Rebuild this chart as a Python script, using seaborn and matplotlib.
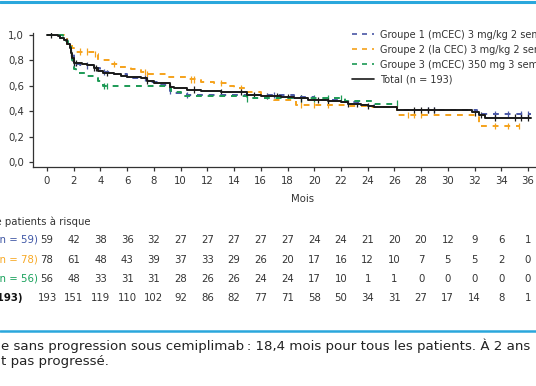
import numpy as np
import pandas as pd
import seaborn as sns
import matplotlib.pyplot as plt
from matplotlib.lines import Line2D
from matplotlib.ticker import FuncFormatter
from matplotlib.transforms import blended_transform_factory

# Survival step data (time in months, survival from that time onward)
g1_t = [0, 1.0, 1.5, 1.8, 2.0, 2.5, 3.5, 4.0, 5.0, 6.0, 7.5, 8.5, 9.2, 9.5, 10.5, 18.5, 20.0, 22.0, 23.5, 24.5, 26.2, 32.2, 36.2]
g1_s = [1.0, 0.98, 0.93, 0.85, 0.77, 0.76, 0.74, 0.71, 0.69, 0.66, 0.63, 0.61, 0.56, 0.54, 0.53, 0.51, 0.49, 0.47, 0.45, 0.43, 0.41, 0.38, 0.38]
g2_t = [0, 1.3, 1.5, 1.9, 2.0, 3.6, 3.8, 4.8, 5.3, 6.3, 7.0, 7.5, 9.0, 10.5, 11.5, 12.5, 13.5, 14.0, 15.0, 16.0, 17.0, 18.6, 22.5, 24.0, 26.2, 32.3, 35.3]
g2_s = [1.0, 0.97, 0.93, 0.90, 0.87, 0.85, 0.80, 0.77, 0.75, 0.73, 0.71, 0.69, 0.67, 0.65, 0.63, 0.62, 0.60, 0.58, 0.55, 0.52, 0.49, 0.45, 0.44, 0.43, 0.37, 0.28, 0.28]
g3_t = [0, 1.2, 1.4, 1.6, 1.8, 1.9, 2.0, 2.2, 3.0, 3.5, 3.8, 4.2, 9.0, 9.3, 10.0, 15.0, 22.3, 24.3, 26.3]
g3_s = [1.0, 0.98, 0.95, 0.91, 0.86, 0.80, 0.73, 0.70, 0.68, 0.66, 0.64, 0.60, 0.58, 0.55, 0.52, 0.50, 0.48, 0.46, 0.46]
tot_t = [0, 0.8, 1.0, 1.3, 1.5, 1.7, 1.8, 1.9, 2.0, 2.6, 3.0, 3.5, 3.8, 4.2, 5.0, 5.5, 6.0, 7.0, 7.5, 8.0, 9.2, 9.5, 10.5, 11.5, 13.0, 15.0, 16.0, 17.5, 18.5, 19.5, 21.0, 22.0, 22.5, 23.5, 24.0, 24.5, 26.2, 31.8, 32.3, 32.8, 36.2]
tot_s = [1.0, 0.99, 0.98, 0.96, 0.93, 0.90, 0.86, 0.82, 0.78, 0.77, 0.76, 0.74, 0.72, 0.70, 0.69, 0.68, 0.67, 0.66, 0.64, 0.62, 0.59, 0.58, 0.57, 0.56, 0.55, 0.53, 0.52, 0.51, 0.50, 0.49, 0.48, 0.47, 0.46, 0.45, 0.44, 0.43, 0.41, 0.39, 0.37, 0.35, 0.35]

# censored observations
g1_c = [2.0, 3.0, 4.3, 7.3, 9.2, 10.5, 17.0, 28.5, 29.0, 33.5, 34.5, 35.5, 36.0]
g2_c = [2.5, 3.0, 3.6, 5.0, 7.3, 7.5, 10.8, 11.0, 13.0, 14.5, 19.0, 20.0, 21.0, 27.0, 27.5, 28.0, 33.5, 34.5, 35.3]
g3_c = [1.5, 4.3, 4.5, 15.0, 19.0, 20.0, 21.0, 22.0, 26.2]
tot_c = [0.3, 1.8, 1.9, 2.0, 2.2, 3.5, 3.7, 4.5, 7.5, 9.2, 11.0, 13.0, 14.5, 15.5, 16.5, 17.2, 18.0,
         19.0, 20.3, 21.0, 22.5, 23.2, 24.0, 27.5, 28.0, 28.5, 29.0, 32.0, 32.5, 33.5, 35.0, 35.5, 36.0]

# patients at risk
risk_times = list(range(0, 37, 2))
risk_g1 = [59, 42, 38, 36, 32, 27, 27, 27, 27, 27, 24, 24, 21, 20, 20, 12, 9, 6, 1]
risk_g2 = [78, 61, 48, 43, 39, 37, 33, 29, 26, 20, 17, 16, 12, 10, 7, 5, 5, 2, 0]
risk_g3 = [56, 48, 33, 31, 31, 28, 26, 26, 24, 24, 17, 10, 1, 1, 0, 0, 0, 0, 0]
risk_tot = [193, 151, 119, 110, 102, 92, 86, 82, 77, 71, 58, 50, 34, 31, 27, 17, 14, 8, 1]

groups = ["Groupe 1", "Groupe 2", "Groupe 3", "Total"]
legend_labels = ["Groupe 1 (mCEC) 3 mg/kg 2 semaines", "Groupe 2 (la CEC) 3 mg/kg 2 semaines",
                 "Groupe 3 (mCEC) 350 mg 3 semaines", "Total (n = 193)"]
risk_labels = ["Groupe 1 (n = 59)", "Groupe 2 (n = 78)", "Groupe 3 (n = 56)", "Total (n = 193)"]
palette = {"Groupe 1": "#4a58a6", "Groupe 2": "#f5a21b", "Groupe 3": "#1c9a55", "Total": "#1a1a1a"}
label_colors = ["#3d55a5", "#f7a823", "#16a05a", "#111111"]

sns.set_theme(style="ticks")
plt.rcParams["font.family"] = ["DejaVu Sans"]

curves = pd.concat([
    pd.DataFrame({"Mois": t, "Survie": s, "Groupe": g})
    for t, s, g in [(g1_t, g1_s, groups[0]), (g2_t, g2_s, groups[1]), (g3_t, g3_s, groups[2]), (tot_t, tot_s, groups[3])]
])


def step_value(t, s, x):
    idx = np.searchsorted(t, x, side="right") - 1
    return np.array(s)[idx]


cens = pd.concat([
    pd.DataFrame({"Mois": c, "Survie": step_value(t, s, c), "Groupe": g})
    for t, s, c, g in [(g1_t, g1_s, g1_c, groups[0]), (g2_t, g2_s, g2_c, groups[1]),
                       (g3_t, g3_s, g3_c, groups[2]), (tot_t, tot_s, tot_c, groups[3])]
])

fig = plt.figure(figsize=(5.36, 3.86), dpi=100, facecolor="white")
ax = fig.add_axes([33 / 536, 1 - 167 / 386, 503 / 536, 134 / 386])

sns.lineplot(data=curves, x="Mois", y="Survie", hue="Groupe", style="Groupe", hue_order=groups,
             style_order=groups, palette=palette,
             dashes={"Groupe 1": (3, 3), "Groupe 2": (3, 3), "Groupe 3": (3, 3), "Total": ""},
             drawstyle="steps-post", estimator=None, sort=False, linewidth=1.4, legend=False, ax=ax)
sns.scatterplot(data=cens, x="Mois", y="Survie", hue="Groupe", hue_order=groups, palette=palette,
                marker="|", s=20, linewidth=0.9, legend=False, ax=ax)

ax.set_xlim(-1.05, 36.6)
ax.set_ylim(-0.04, 1.016)
ax.set_xticks(risk_times)
ax.set_yticks([0, 0.2, 0.4, 0.6, 0.8, 1.0])
ax.yaxis.set_major_formatter(FuncFormatter(lambda v, p: f"{v:.1f}".replace(".", ",")))
ax.tick_params(labelsize=7.3, colors="#333333", length=3, width=0.9)
ax.set_ylabel("")
ax.set_xlabel("Mois", fontsize=7.3, color="#333333")
ax.xaxis.set_label_coords((303 - 33) / 503, -0.205)
sns.despine(ax=ax)
for sp in ["left", "bottom"]:
    ax.spines[sp].set_color("#333333")
    ax.spines[sp].set_linewidth(0.9)

handles = [Line2D([], [], color=palette[g], lw=1.2, dashes=(3, 3) if g != "Total" else (None, None))
           for g in groups]
fig.legend(handles, legend_labels, loc="upper left", bbox_to_anchor=(348 / 536, 1 - 26 / 386),
           frameon=False, fontsize=7.0, handlelength=2.3, handletextpad=0.55, labelspacing=0.5,
           borderaxespad=0, labelcolor="#333333")

# at risk table
fig.text(91 / 536, 1 - 222 / 386, "Nombre de patients à risque", ha="right", va="center",
         fontsize=7.3, color="#333333")
row_y = [240, 260, 279, 298]
mixed = blended_transform_factory(ax.transData, fig.transFigure)
for lab, col, vals, y in zip(risk_labels, label_colors, [risk_g1, risk_g2, risk_g3, risk_tot], row_y):
    weight = "bold" if lab.startswith("Total") else "normal"
    fig.text((38 if weight == "normal" else 22) / 536, 1 - y / 386, lab, ha="right", va="center",
             fontsize=7.3, color=col, fontweight=weight)
    for t, v in zip(risk_times, vals):
        ax.text(t, 1 - y / 386, str(v), transform=mixed, ha="center", va="center",
                fontsize=7.3, color="#333333", clip_on=False)

# frame lines
fig.add_artist(Line2D([0, 1], [1 - 2 / 386, 1 - 2 / 386], color="#2aa7dc", lw=2.2))
fig.add_artist(Line2D([0, 1], [1 - 331 / 386, 1 - 331 / 386], color="#2aa7dc", lw=1.8))

fig.text(1 / 536, 1 - 346 / 386,
         "e sans progression sous cemiplimab\u2009: 18,4 mois pour tous les patients. À 2 ans",
         ha="left", va="center", fontsize=9.6, color="#222222")
fig.text(1 / 536, 1 - 362 / 386, "t pas progressé.", ha="left", va="center", fontsize=9.6, color="#222222")

fig.savefig("out.png", dpi=100)
